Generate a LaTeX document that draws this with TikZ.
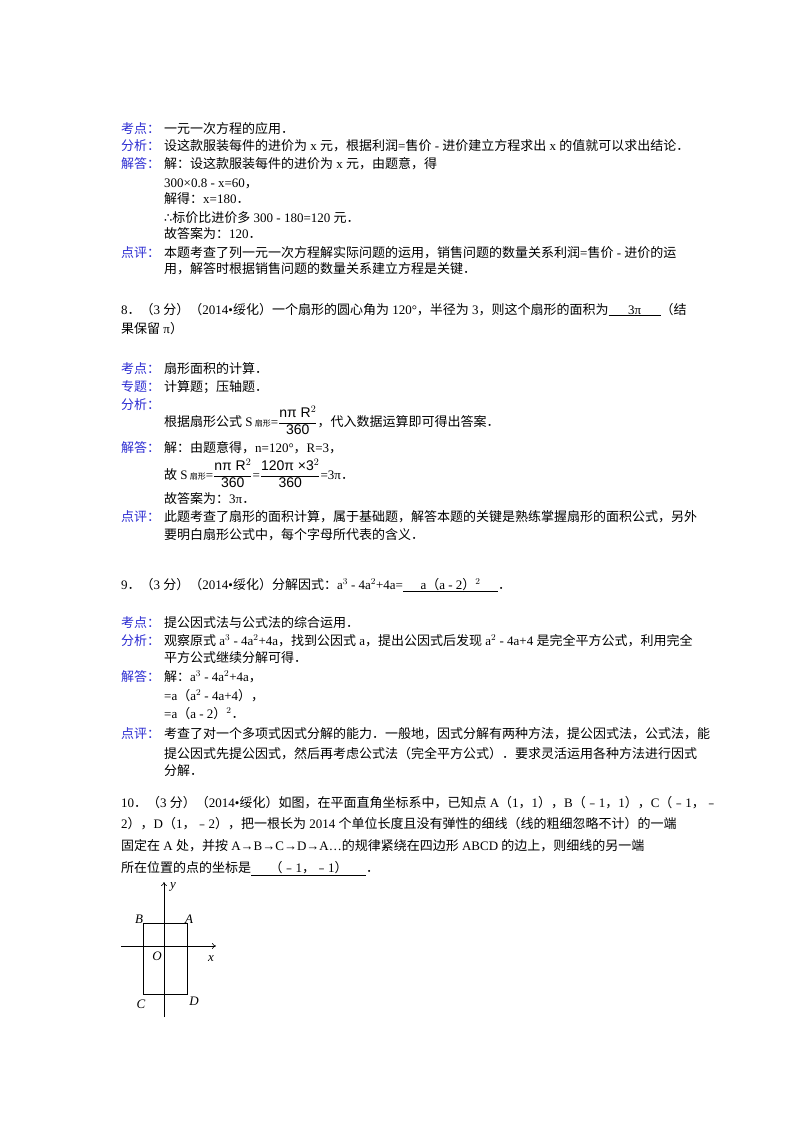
\documentclass[tikz,border=0pt]{standalone}
\usepackage{fontspec}
\usetikzlibrary{arrows.meta}
\setmainfont{Liberation Serif}
\newfontfamily\cjk{Noto Sans CJK SC}
\newfontfamily\lat{Liberation Serif}
\newfontfamily\sfa{Liberation Sans}
\newfontfamily\dvs{DejaVu Sans}
\XeTeXinterchartokenstate=1
\newXeTeXintercharclass\CJKcls
\count255="4E00
\loop \XeTeXcharclass\count255=\CJKcls \advance\count255 by 1 \ifnum\count255<"9FFF \repeat
\count255="3000
\loop \XeTeXcharclass\count255=\CJKcls \advance\count255 by 1 \ifnum\count255<"303F \repeat
\count255="FE30
\loop \XeTeXcharclass\count255=\CJKcls \advance\count255 by 1 \ifnum\count255<"FE6F \repeat
\count255="FF00
\loop \XeTeXcharclass\count255=\CJKcls \advance\count255 by 1 \ifnum\count255<"FFEF \repeat
\XeTeXinterchartoks 0 \CJKcls = {\cjk}
\XeTeXinterchartoks 4095 \CJKcls = {\cjk}
\XeTeXinterchartoks \CJKcls 0 = {\lat}
\XeTeXinterchartoks \CJKcls 4095 = {\lat}
\definecolor{lab}{RGB}{45,45,210}
\newcommand{\ans}[2]{\underline{\hbox to #1{\hfil #2\hfil}}}
\newcommand{\sub}[1]{{\fontsize{8pt}{9pt}\selectfont #1}}
\newcommand{\ther}{\hbox{\dvs\symbol{"2234}}}
\newcommand{\fr}[2]{$\displaystyle\frac{\hbox{\sfa\fontsize{14pt}{16pt}\selectfont #1}}{\hbox{\sfa\fontsize{14pt}{16pt}\selectfont #2}}$}
\begin{document}
\begin{tikzpicture}[x=1pt,y=-1pt,
  t/.style={anchor=base west,inner sep=0pt,font=\fontsize{13pt}{15pt}\selectfont},
  lb/.style={t,text=lab},
  fl/.style={anchor=base,inner sep=0pt,font=\fontsize{13pt}{15pt}\selectfont\itshape}]
\useasboundingbox (0,0) rectangle (800,1132);
\fill[white] (0,0) rectangle (800,1132);
% block 7
\node[lb] (l1) at (121,133) {考点：};
\node[t] (c1) at (164,133) {一元一次方程的应用．};
\node[lb] (l2) at (121,150) {分析：};
\node[t] (c2) at (164,150) {设这款服装每件的进价为 x 元，根据利润=售价 - 进价建立方程求出 x 的值就可以求出结论．};
\node[lb] (l3) at (121,168) {解答：};
\node[t] (c3) at (164,168) {解：设这款服装每件的进价为 x 元，由题意，得};
\node[t] (c4) at (164,187) {300×0.8 - x=60，};
\node[t] (c5) at (164,203) {解得：x=180．};
\node[t] (c6) at (164,222) {\ther 标价比进价多 300 - 180=120 元．};
\node[t] (c7) at (164,238) {故答案为：120．};
\node[lb] (l4) at (121,257) {点评：};
\node[t] (c8) at (164,257) {本题考查了列一元一次方程解实际问题的运用，销售问题的数量关系利润=售价 - 进价的运};
\node[t] (c9) at (164,273) {用，解答时根据销售问题的数量关系建立方程是关键．};
% problem 8
\node[t] (p8a) at (121,314) {8．（3 分）（2014•绥化）一个扇形的圆心角为 120°，半径为 3，则这个扇形的面积为\ans{52pt}{3π}（结};
\node[t] (p8b) at (121,333) {果保留 π）};
\node[lb] (m1) at (121,373) {考点：};
\node[t] (d1) at (164,373) {扇形面积的计算．};
\node[lb] (m2) at (121,391) {专题：};
\node[t] (d2) at (164,391) {计算题；压轴题．};
\node[lb] (m3) at (121,409) {分析：};
\node[t] (d3) at (164,426) {根据扇形公式 S\,\sub{扇形}=\fr{nπ R$^2$}{360}，代入数据运算即可得出答案．};
\node[lb] (m4) at (121,452) {解答：};
\node[t] (d4) at (164,452) {解：由题意得，n=120°，R=3，};
\node[t] (d5) at (164,479) {故 S\,\sub{扇形}=\fr{nπ R$^2$}{360}=\fr{120π ×3$^2$}{360}=3π．};
\node[t] (d6) at (164,503) {故答案为：3π．};
\node[lb] (m5) at (121,521) {点评：};
\node[t] (d7) at (164,521) {此题考查了扇形的面积计算，属于基础题，解答本题的关键是熟练掌握扇形的面积公式，另外};
\node[t] (d8) at (164,539) {要明白扇形公式中，每个字母所代表的含义．};
% problem 9
\node[t] (p9) at (121,589) {9．（3 分）（2014•绥化）分解因式：a$^3$ - 4a$^2$+4a=\ans{95pt}{a（a - 2）$^2$}．};
\node[lb] (n1) at (121,627) {考点：};
\node[t] (e1) at (164,627) {提公因式法与公式法的综合运用．};
\node[lb] (n2) at (121,645) {分析：};
\node[t] (e2) at (164,645) {观察原式 a$^3$ - 4a$^2$+4a，找到公因式 a，提出公因式后发现 a$^2$ - 4a+4 是完全平方公式，利用完全};
\node[t] (e3) at (164,662) {平方公式继续分解可得．};
\node[lb] (n3) at (121,681) {解答：};
\node[t] (e4) at (164,681) {解：a$^3$ - 4a$^2$+4a，};
\node[t] (e5) at (164,700) {=a（a$^2$ - 4a+4），};
\node[t] (e6) at (164,718) {=a（a - 2）$^2$．};
\node[lb] (n4) at (121,738) {点评：};
\node[t] (e7) at (164,738) {考查了对一个多项式因式分解的能力．一般地，因式分解有两种方法，提公因式法，公式法，能};
\node[t] (e8) at (164,758) {提公因式先提公因式，然后再考虑公式法（完全平方公式）．要求灵活运用各种方法进行因式};
\node[t] (e9) at (164,775) {分解．};
% problem 10
\node[t] (q1) at (121,807) {10．（3 分）（2014•绥化）如图，在平面直角坐标系中，已知点 A（1，1），B（﹣1，1），C（﹣1，﹣};
\node[t] (q2) at (121,828) {2），D（1，﹣2），把一根长为 2014 个单位长度且没有弹性的细线（线的粗细忽略不计）的一端};
\node[t] (q3) at (121,850) {固定在 A 处，并按 A→B→C→D→A…的规律紧绕在四边形 ABCD 的边上，则细线的另一端};
\node[t] (q4) at (121,872) {所在位置的点的坐标是\ans{115pt}{（﹣1，﹣1）}．};
% figure
\coordinate (xs) at (121,946); \coordinate (xe) at (216,946);
\coordinate (ys) at (164,1017); \coordinate (ye) at (164,882);
\draw[line width=0.6pt,-{To[length=4pt,width=6pt]}] (xs) -- (xe);
\draw[line width=0.6pt,-{To[length=4pt,width=6pt]}] (ys) -- (ye);
\coordinate (A) at (187,923); \coordinate (B) at (143,923);
\coordinate (C) at (143,994); \coordinate (D) at (187,994);
\draw[line width=0.6pt] (A) -- (B) -- (C) -- (D) -- cycle;
\node[fl] (lA) at (189,923) {A};
\node[fl] (lB) at (139,923) {B};
\node[fl] (lC) at (141,1008) {C};
\node[fl] (lD) at (194,1005) {D};
\node[fl] (lO) at (157,960) {O};
\node[fl] (lx) at (211,961) {x};
\node[fl] (ly) at (173,888) {y};
\end{tikzpicture}
\end{document}
